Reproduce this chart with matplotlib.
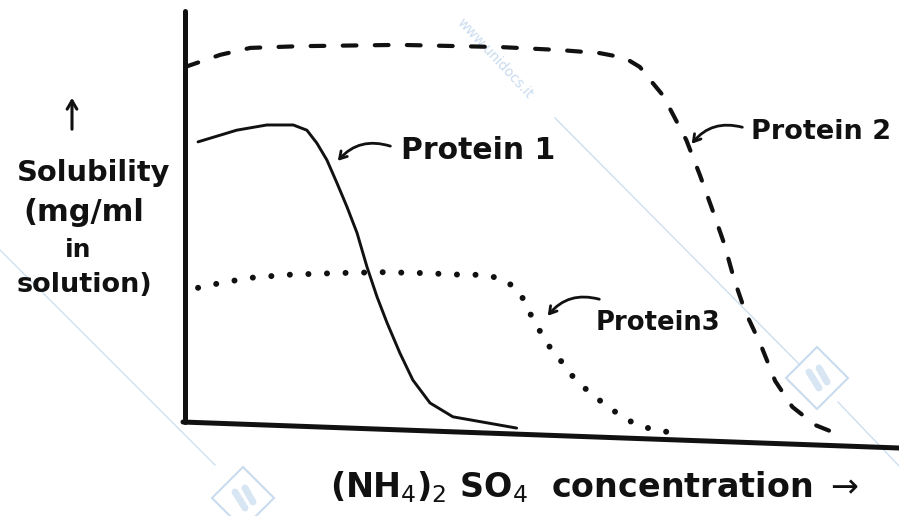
import matplotlib
matplotlib.use("Agg")
import matplotlib.pyplot as plt

# ammonium sulfate concentration (arbitrary units) vs. solubility (arbitrary units)
p1_conc = [2.1, 7.5, 11.7, 15.4, 17.3, 18.7, 20.1, 21.5, 22.9, 24.3, 25.7, 27.1,
           28.5, 30.3, 32.1, 34.5, 37.7, 42.5, 46.6]
p1_sol = [70.7, 73.4, 74.6, 74.6, 73.4, 70.4, 66.5, 61.2, 55.7, 49.7, 41.8, 34.9,
          28.9, 21.9, 15.7, 10.4, 7.2, 5.8, 4.6]

p2_conc = [0.3, 5.2, 9.4, 16.3, 30.3, 44.3, 52.7, 58.2, 61.7, 63.8, 65.5, 67.0,
           68.7, 70.3, 72.2, 73.9, 75.6, 77.0, 78.5, 80.7, 82.7, 85.1, 88.3, 92.5]
p2_sol = [88.0, 90.8, 92.4, 92.8, 93.1, 92.6, 91.9, 91.2, 90.1, 88.0, 84.5, 81.5,
          76.2, 71.1, 63.0, 55.2, 47.1, 38.8, 31.6, 23.8, 15.5, 9.5, 5.3, 2.5]

p3_conc = [2.1, 5.2, 9.4, 14.5, 21.5, 27.9, 33.5, 39.1, 42.2, 45.0, 47.1, 48.2,
           49.6, 51.0, 52.7, 54.5, 56.4, 58.5, 61.0, 63.4, 65.9, 68.4]
p3_sol = [37.0, 38.1, 39.3, 40.0, 40.4, 40.6, 40.4, 40.0, 40.0, 38.8, 35.8, 31.9,
          27.7, 23.8, 20.3, 16.4, 13.4, 10.6, 7.6, 5.3, 4.2, 3.5]

labels = ["Protein 1", "Protein 2", "Protein3"]
label_sizes = [21.5, 19.5, 18.6]

W, H = 899, 516
fig = plt.figure(figsize=(W / 100, H / 100), dpi=100)
fig.patch.set_facecolor("white")


def fx(x):
    return x / W


def fy(y):
    return 1 - y / H


# faint watermark layer in pixel space
bg = fig.add_axes([0, 0, 1, 1])
bg.set_xlim(0, W)
bg.set_ylim(H, 0)
bg.axis("off")
wm = "#c9dcef"
for (x0, y0, x1, y1) in [(0, 250, 215, 465), (555, 118, 800, 365), (838, 402, 899, 466)]:
    bg.plot([x0, x1], [y0, y1], color=wm, lw=0.9)
bg.text(495, 58, "www.unidocs.it", rotation=-47, color=wm, fontsize=10,
        ha="center", va="center")
# logo badges
for (lx, ly) in [(817, 378), (243, 498)]:
    bg.plot([lx], [ly], marker="D", ms=32, mfc="none", mec=wm, mew=1.5)
    bg.plot([lx - 8, lx + 2], [ly - 6, ly + 10], color="#d8e6f4", lw=5,
            solid_capstyle="round")
    bg.plot([lx + 2, lx + 10], [ly - 10, ly + 4], color="#d8e6f4", lw=5,
            solid_capstyle="round")

ax = fig.add_axes([183 / W, 1 - 448 / H, 1 - 183 / W, 433 / H])
ax.set_xlim(0, 100)
ax.set_ylim(0, 100)
ax.axis("off")

ink = "#111111"
ax.plot(p1_conc, p1_sol, color=ink, lw=2.1, solid_capstyle="round",
        solid_joinstyle="round")
ax.plot(p2_conc, p2_sol, color=ink, lw=3.0, linestyle=(0, (3.3, 4.4)),
        dash_capstyle="round")
ax.plot(p3_conc, p3_sol, color=ink, lw=4.3, linestyle=(0, (0.01, 3.1)),
        dash_capstyle="round")

# hand-drawn axes: vertical y axis, slightly slanted x axis
ax.plot([0.003, 0.003], [0.06, 1.01], transform=ax.transAxes, color=ink, lw=3.6,
        clip_on=False, solid_capstyle="round")
ax.plot([0.0, 1.0], [0.06, 0.0], transform=ax.transAxes, color=ink, lw=3.6,
        clip_on=False, solid_capstyle="round")

txt = dict(color=ink, fontweight="bold", family="DejaVu Sans")

# y label
fig.text(fx(94), fy(173), "Solubility", ha="center", va="center", fontsize=20.8, **txt)
fig.text(fx(84), fy(212), "(mg/ml", ha="center", va="center", fontsize=22, **txt)
fig.text(fx(78), fy(250), "in", ha="center", va="center", fontsize=18, **txt)
fig.text(fx(85), fy(285), "solution)", ha="center", va="center", fontsize=19.5, **txt)
bg.annotate("", xy=(72, 95), xytext=(72, 132),
            arrowprops=dict(arrowstyle="->,head_length=0.6,head_width=0.35",
                            color=ink, lw=2.2))

# x label
fig.text(fx(595), fy(487), r"(NH$_4$)$_2$ SO$_4$  concentration $\rightarrow$",
         ha="center", va="center", fontsize=24, **txt)

# curve labels with squiggly pointers
label_pos = [(478, 150), (821, 132), (658, 323)]
arrow_spec = [((393, 147), (336, 163)), ((745, 128), (690, 146)),
              ((602, 300), (546, 318))]
for name, size, (tx, ty), (tail, head) in zip(labels, label_sizes, label_pos, arrow_spec):
    fig.text(fx(tx), fy(ty), name, ha="center", va="center", fontsize=size, **txt)
    bg.annotate("", xy=head, xytext=tail,
                arrowprops=dict(arrowstyle="->,head_length=0.5,head_width=0.3",
                                connectionstyle="arc3,rad=0.35", color=ink, lw=2.0))

fig.savefig("out.png", dpi=100, facecolor="white")
